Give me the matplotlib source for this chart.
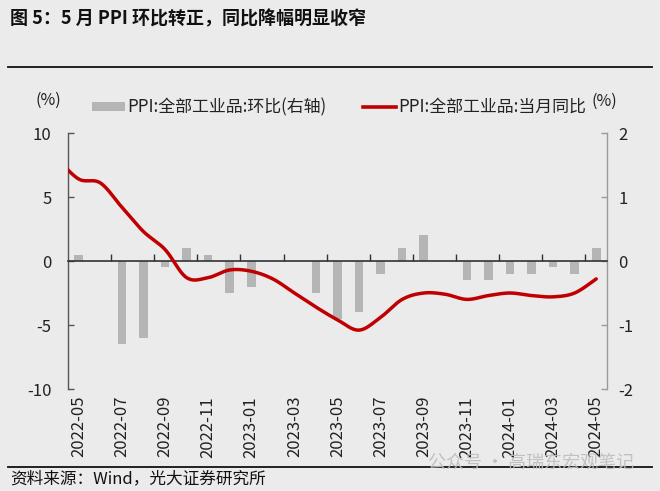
import numpy as np
import matplotlib
matplotlib.use("Agg")
import matplotlib.pyplot as plt
from matplotlib.lines import Line2D
from matplotlib.patches import Patch

plt.rcParams['font.family'] = ['Noto Sans CJK SC', 'DejaVu Sans']
plt.rcParams['axes.unicode_minus'] = False

# ---- data ----
months = ['2022-05', '2022-06', '2022-07', '2022-08', '2022-09', '2022-10', '2022-11', '2022-12',
          '2023-01', '2023-02', '2023-03', '2023-04', '2023-05', '2023-06', '2023-07', '2023-08',
          '2023-09', '2023-10', '2023-11', '2023-12', '2024-01', '2024-02', '2024-03', '2024-04',
          '2024-05']
mom = [0.1, 0.0, -1.3, -1.2, -0.1, 0.2, 0.1, -0.5, -0.4, 0.0, 0.0, -0.5, -0.9, -0.8, -0.2, 0.2,
       0.4, 0.0, -0.3, -0.3, -0.2, -0.2, -0.1, -0.2, 0.2]
yoy_prev = 8.0  # 2022-04, outside the visible range (line enters from the left edge)
yoy = [6.4, 6.1, 4.2, 2.3, 0.9, -1.3, -1.3, -0.7, -0.8, -1.4, -2.5, -3.6, -4.6, -5.4, -4.4, -3.0,
       -2.5, -2.6, -3.0, -2.7, -2.5, -2.7, -2.8, -2.5, -1.4]
tick_labels = months[::2]

label_bar = 'PPI:全部工业品:环比(右轴)'
label_line = 'PPI:全部工业品:当月同比'

BG = '#ebebeb'
BAR = '#b5b5b5'
RED = '#c00000'


def smooth(xs, ys, n=20):
    """Catmull-Rom style Bezier smoothing through the given points."""
    xs = np.asarray(xs, float)
    ys = np.asarray(ys, float)
    px = np.concatenate([[xs[0]], xs, [xs[-1]]])
    py = np.concatenate([[ys[0]], ys, [ys[-1]]])
    t = np.linspace(0, 1, n, endpoint=False)
    ox, oy = [], []
    for i in range(1, len(px) - 2):
        p0x, p1x, p2x, p3x = px[i - 1], px[i], px[i + 1], px[i + 2]
        p0y, p1y, p2y, p3y = py[i - 1], py[i], py[i + 1], py[i + 2]
        c1x = p1x + (p2x - p0x) / 6
        c1y = p1y + (p2y - p0y) / 6
        c2x = p2x - (p3x - p1x) / 6
        c2y = p2y - (p3y - p1y) / 6
        b0 = (1 - t) ** 3
        b1 = 3 * (1 - t) ** 2 * t
        b2 = 3 * (1 - t) * t ** 2
        b3 = t ** 3
        ox.append(b0 * p1x + b1 * c1x + b2 * c2x + b3 * p2x)
        oy.append(b0 * p1y + b1 * c1y + b2 * c2y + b3 * p2y)
    ox.append([xs[-1]])
    oy.append([ys[-1]])
    return np.concatenate(ox), np.concatenate(oy)


fig = plt.figure(figsize=(6.6, 4.91), dpi=100, facecolor=BG)
ax = fig.add_axes([68 / 660, 1 - 389 / 491, (607 - 68) / 660, (389 - 133) / 491])
ax2 = ax.twinx()
ax.set_zorder(ax2.get_zorder() + 1)
ax.patch.set_visible(False)
ax2.patch.set_facecolor(BG)

x = np.arange(len(months))

# bars on right axis
ax2.bar(x, mom, width=0.4, color=BAR, zorder=2)
ax2.set_ylim(-2, 2)
ax2.set_yticks([-2, -1, 0, 1, 2])
ax2.set_yticklabels(['-2', '-1', '0', '1', '2'])

# line on left axis
lx = np.concatenate([[-1], x])
ly = np.concatenate([[yoy_prev], yoy])
sx, sy = smooth(lx, ly)
ax.plot(sx, sy, color=RED, lw=2.5, solid_capstyle='round', zorder=3)
ax.set_ylim(-10, 10)
ax.set_yticks([-10, -5, 0, 5, 10])
ax.set_yticklabels(['-10', '-5', '0', '5', '10'])
ax.set_xlim(-0.5, len(months) - 0.5)

# spines
for a in (ax, ax2):
    a.spines['top'].set_visible(False)
ax.spines['right'].set_visible(False)
ax2.spines['left'].set_visible(False)
ax2.spines['bottom'].set_visible(False)
ax.spines['left'].set_color('#555555')
ax.spines['left'].set_linewidth(1.0)
ax2.spines['right'].set_color('#9a9a9a')
ax2.spines['right'].set_linewidth(1.0)
ax.spines['bottom'].set_position(('data', 0))
ax.spines['bottom'].set_color('#333333')
ax.spines['bottom'].set_linewidth(1.2)

# x ticks: marks at category boundaries on the zero line
ax.set_xticks(np.arange(1.5, len(months) - 1, 2))
ax.tick_params(axis='x', direction='in', length=5, width=1, color='#333333',
               labelbottom=False)
ax.tick_params(axis='y', direction='in', length=4, width=1, color='#555555',
               labelsize=12, labelcolor='#222222', pad=12)
ax2.tick_params(axis='y', direction='in', length=4, width=1, color='#9a9a9a',
                labelsize=12, labelcolor='#222222', pad=8)

# rotated date labels at the bottom
sec = ax.secondary_xaxis('bottom')
sec.set_xticks(x[::2])
sec.set_xticklabels(tick_labels, rotation=90, fontsize=12, color='#222222')
sec.tick_params(length=0, pad=5)
sec.spines['bottom'].set_visible(False)

# unit labels
fig.text(48 / 660, 1 - 100 / 491, '(%)', fontsize=11.5, ha='center', va='center', color='#222222')
fig.text(604 / 660, 1 - 101 / 491, '(%)', fontsize=11.5, ha='center', va='center', color='#222222')

# legend
handles = [Patch(facecolor=BAR, edgecolor='none'),
           Line2D([0], [0], color=RED, lw=2.6)]
fig.legend(handles, [label_bar, label_line], loc='center', ncol=2,
           bbox_to_anchor=(339 / 660, 1 - 107 / 491), frameon=False, fontsize=12.2,
           handlelength=1.95, handleheight=0.45, handletextpad=0.12, columnspacing=2.2,
           labelcolor='#222222')

# title, rules, footer
fig.text(10 / 660, 1 - 19 / 491, '图 5：5 月 PPI 环比转正，同比降幅明显收窄', fontsize=13,
         fontweight='bold', ha='left', va='center', color='#111111')
fig.add_artist(Line2D([8 / 660, 652 / 660], [1 - 67 / 491, 1 - 67 / 491], color='#111111', lw=1.3))
fig.add_artist(Line2D([8 / 660, 652 / 660], [1 - 467 / 491, 1 - 467 / 491], color='#111111', lw=1.3))
fig.text(428 / 660, 1 - 463 / 491, '公众号 · 高瑞东宏观笔记', fontsize=13, ha='left', va='center',
         color='#bdbdbd', alpha=0.9)
fig.text(10 / 660, 1 - 479 / 491, '资料来源：Wind，光大证券研究所', fontsize=12,
         ha='left', va='center', color='#111111')

fig.savefig('out.png', dpi=100, facecolor=BG)
